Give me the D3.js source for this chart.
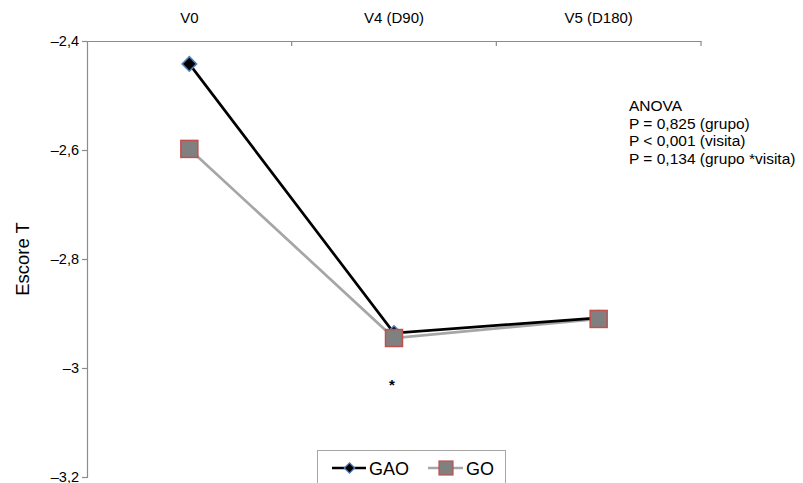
<!DOCTYPE html>
<html>
<head>
<meta charset="utf-8">
<script src="https://cdn.jsdelivr.net/npm/d3@7"></script>
<style>
    body { margin: 0; background: #fff; }
    text { font-family: "Liberation Sans", Arial, sans-serif; fill: #000; }
</style>
</head>
<body>
<svg id="chart" width="803" height="483"></svg>
<script>
// categories and series
var visits = ["V0", "V4 (D90)", "V5 (D180)"];
var gaoValues = [-2.442, -2.936, -2.908];
var goValues = [-2.598, -2.945, -2.91];
var yTicks = [-2.4, -2.6, -2.8, -3, -3.2];
var anovaLines = ["ANOVA", "P = 0,825 (grupo)", "P < 0,001 (visita)", "P = 0,134 (grupo *visita)"];

var svg = d3.select("#chart");

// plot area
var plotLeft = 87, plotRight = 701, plotTop = 41, plotBottom = 477;

var x = d3.scaleBand()
    .domain(visits)
    .range([plotLeft, plotRight]);

var y = d3.scaleLinear()
    .domain([-2.4, -3.2])
    .range([plotTop, plotBottom]);

var axisColor = "#8c8c8c";

// top axis (categories)
var xAxis = svg.append("g")
    .attr("transform", "translate(0," + plotTop + ")")
    .call(d3.axisTop(x).tickSize(0).tickPadding(18));
xAxis.select(".domain").attr("stroke", axisColor).attr("stroke-width", 1.2);
xAxis.selectAll("text").style("font-size", "15px");

// category separator ticks pointing down into the plot
svg.selectAll(".xsep")
    .data(visits)
    .enter().append("line")
    .attr("class", "xsep")
    .attr("x1", function(d) { return x(d) + x.bandwidth(); })
    .attr("x2", function(d) { return x(d) + x.bandwidth(); })
    .attr("y1", plotTop)
    .attr("y2", plotTop + 5)
    .attr("stroke", axisColor)
    .attr("stroke-width", 1.2);

// left axis
var yAxis = svg.append("g")
    .attr("transform", "translate(" + plotLeft + ",0)")
    .call(d3.axisLeft(y)
        .tickValues(yTicks)
        .tickSize(5)
        .tickPadding(3)
        .tickFormat(function(d) { return "\u2013" + String(Math.abs(d)).replace(".", ","); }));
yAxis.select(".domain").attr("stroke", axisColor).attr("stroke-width", 1.2);
yAxis.selectAll(".tick line").attr("stroke", axisColor).attr("stroke-width", 1.2);
yAxis.selectAll("text").style("font-size", "14.5px");

// y axis title
svg.append("text")
    .attr("transform", "translate(29," + ((plotTop + plotBottom) / 2) + ") rotate(-90)")
    .attr("text-anchor", "middle")
    .style("font-size", "18.5px")
    .text("Escore T");

var cx = function(d, i) { return x(visits[i]) + x.bandwidth() / 2; };

var line = d3.line()
    .x(function(d, i) { return cx(d, i); })
    .y(function(d) { return y(d); });

// GO series (gray, behind)
svg.append("path")
    .datum(goValues)
    .attr("fill", "none")
    .attr("stroke", "#a6a6a6")
    .attr("stroke-width", 2.7)
    .attr("d", line);

// GAO series (black)
svg.append("path")
    .datum(gaoValues)
    .attr("fill", "none")
    .attr("stroke", "#000")
    .attr("stroke-width", 2.7)
    .attr("d", line);

var diamond = d3.symbol().type(d3.symbolDiamond2).size(135);

svg.selectAll(".gao")
    .data(gaoValues)
    .enter().append("path")
    .attr("class", "gao")
    .attr("d", diamond)
    .attr("transform", function(d, i) { return "translate(" + cx(d, i) + "," + y(d) + ")"; })
    .attr("fill", "#000")
    .attr("stroke", "#4f81bd")
    .attr("stroke-width", 1.5);

svg.selectAll(".go")
    .data(goValues)
    .enter().append("rect")
    .attr("class", "go")
    .attr("x", function(d, i) { return cx(d, i) - 8.5; })
    .attr("y", function(d) { return y(d) - 8.5; })
    .attr("width", 17)
    .attr("height", 17)
    .attr("fill", "#808080")
    .attr("stroke", "#c0504d")
    .attr("stroke-width", 1.5);

// significance star below V4
svg.append("text")
    .attr("x", x(visits[1]) + x.bandwidth() / 2 - 2)
    .attr("y", 390)
    .attr("text-anchor", "middle")
    .style("font-size", "15px")
    .style("font-weight", "bold")
    .text("*");

// ANOVA annotation
svg.append("g").selectAll("text")
    .data(anovaLines)
    .enter().append("text")
    .attr("x", 629)
    .attr("y", function(d, i) { return 111 + i * 17.5; })
    .style("font-size", "15.5px")
    .text(function(d) { return d; });

// legend
var legend = svg.append("g");
legend.append("rect")
    .attr("x", 317.5)
    .attr("y", 450.5)
    .attr("width", 188)
    .attr("height", 40)
    .attr("fill", "#fff")
    .attr("stroke", "#a6a6a6")
    .attr("stroke-width", 1);

var ly = 468;
legend.append("line")
    .attr("x1", 332).attr("x2", 366).attr("y1", ly).attr("y2", ly)
    .attr("stroke", "#000").attr("stroke-width", 2.7);
legend.append("path")
    .attr("d", d3.symbol().type(d3.symbolDiamond2).size(70))
    .attr("transform", "translate(349.5," + ly + ")")
    .attr("fill", "#000")
    .attr("stroke", "#4f81bd")
    .attr("stroke-width", 1.2);
legend.append("text")
    .attr("x", 369).attr("y", ly + 6.5)
    .style("font-size", "18px")
    .text("GAO");

legend.append("line")
    .attr("x1", 428).attr("x2", 463).attr("y1", ly).attr("y2", ly)
    .attr("stroke", "#a6a6a6").attr("stroke-width", 2.7);
legend.append("rect")
    .attr("x", 439).attr("y", ly - 7)
    .attr("width", 14).attr("height", 14)
    .attr("fill", "#808080")
    .attr("stroke", "#c0504d")
    .attr("stroke-width", 1.2);
legend.append("text")
    .attr("x", 466).attr("y", ly + 6.5)
    .style("font-size", "18px")
    .text("GO");
</script>
</body>
</html>
